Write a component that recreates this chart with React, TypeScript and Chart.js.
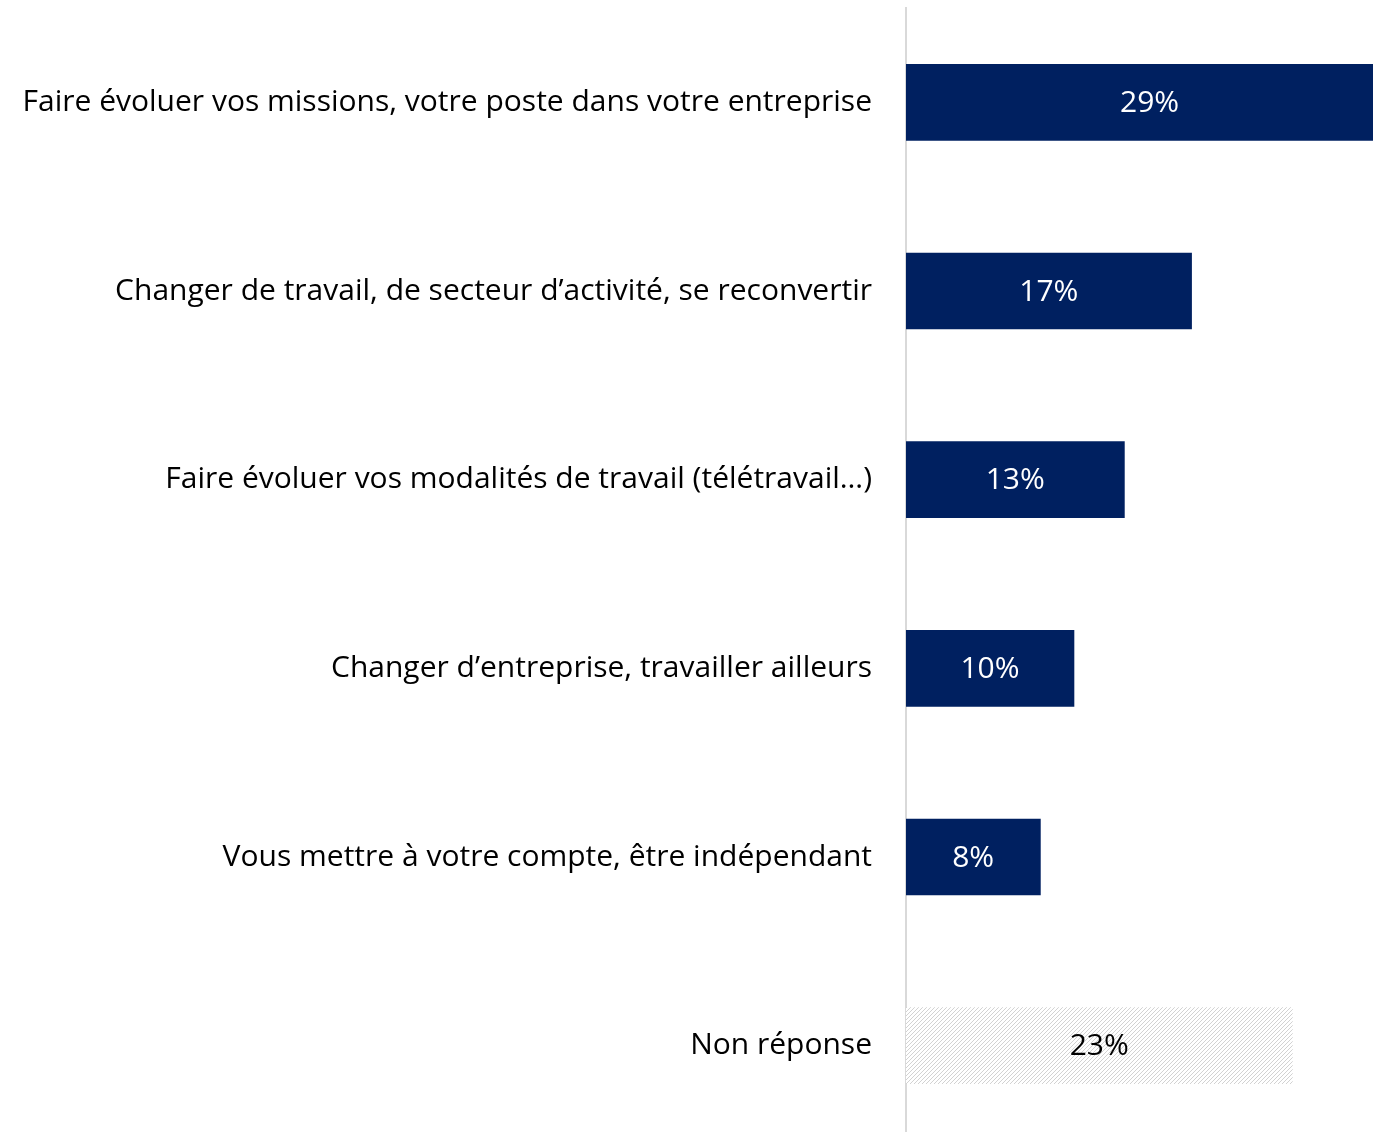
import React, { useEffect, useRef } from "react";
import { Chart, registerables } from "chart.js";

Chart.register(...registerables);

const categories: string[] = [
  "Faire évoluer vos missions, votre poste dans votre entreprise",
  "Changer de travail, de secteur d’activité, se reconvertir",
  "Faire évoluer vos modalités de travail (télétravail…)",
  "Changer d’entreprise, travailler ailleurs",
  "Vous mettre à votre compte, être indépendant",
  "Non réponse",
];
const values: number[] = [29, 17, 13, 10, 8, 23];
const hatchedIndex: number[] = [5];

const NAVY = "#002060";
const FONT = "'Open Sans', Lato, sans-serif";

function makeHatch(): CanvasPattern | string {
  const c = document.createElement("canvas");
  c.width = 4;
  c.height = 4;
  const ctx = c.getContext("2d");
  if (!ctx) return "#e0e0e0";
  ctx.fillStyle = "#ffffff";
  ctx.fillRect(0, 0, 4, 4);
  ctx.strokeStyle = "#d2d2d2";
  ctx.lineWidth = 1;
  ctx.beginPath();
  ctx.moveTo(0, 4);
  ctx.lineTo(4, 0);
  ctx.moveTo(-1, 1);
  ctx.lineTo(1, -1);
  ctx.moveTo(3, 5);
  ctx.lineTo(5, 3);
  ctx.stroke();
  const p = ctx.createPattern(c, "repeat");
  return p || "#e0e0e0";
}

const valueLabels = {
  id: "valueLabels",
  afterDatasetsDraw(chart: any) {
    const ctx = chart.ctx;
    const meta = chart.getDatasetMeta(0);
    ctx.save();
    ctx.font = `30px ${FONT}`;
    ctx.textAlign = "center";
    ctx.textBaseline = "middle";
    meta.data.forEach((el: any, i: number) => {
      const cx = (el.x + el.base) / 2;
      ctx.fillStyle = hatchedIndex.includes(i) ? "#000000" : "#ffffff";
      ctx.fillText(values[i] + "%", cx, el.y + 1);
    });
    ctx.restore();
  },
};

export default function App() {
  const ref = useRef<HTMLCanvasElement | null>(null);
  useEffect(() => {
    if (!ref.current) return;
    const hatch = makeHatch();
    const colors = values.map((_, i) => (hatchedIndex.includes(i) ? hatch : NAVY));
    const chart = new Chart(ref.current, {
      type: "bar",
      data: {
        labels: categories,
        datasets: [
          {
            data: values,
            backgroundColor: colors as any,
            borderWidth: 0,
            barThickness: 76,
          },
        ],
      },
      plugins: [valueLabels],
      options: {
        indexAxis: "y",
        animation: false,
        responsive: true,
        maintainAspectRatio: false,
        layout: { padding: 0 },
        plugins: { legend: { display: false }, tooltip: { enabled: false } },
        scales: {
          x: { display: false, min: 0, max: 27.8 },
          y: {
            grid: {
              display: true,
              drawOnChartArea: false,
              drawTicks: true,
              tickLength: 34,
              color: "rgba(0,0,0,0)",
            },
            border: { display: true, color: "#d9d9d9", width: 2 },
            ticks: {
              padding: 0,
              color: "#000000",
              font: { family: FONT, size: 30, lineHeight: 1.2 },
            },
            afterFit(scale: any) {
              scale.width = 906;
            },
          },
        },
      },
    });
    return () => chart.destroy();
  }, []);
  return (
    <div style={{ position: "fixed", top: -10, left: 0, width: 1373, height: 1168, background: "#fff" }}>
      <canvas ref={ref} />
    </div>
  );
}
